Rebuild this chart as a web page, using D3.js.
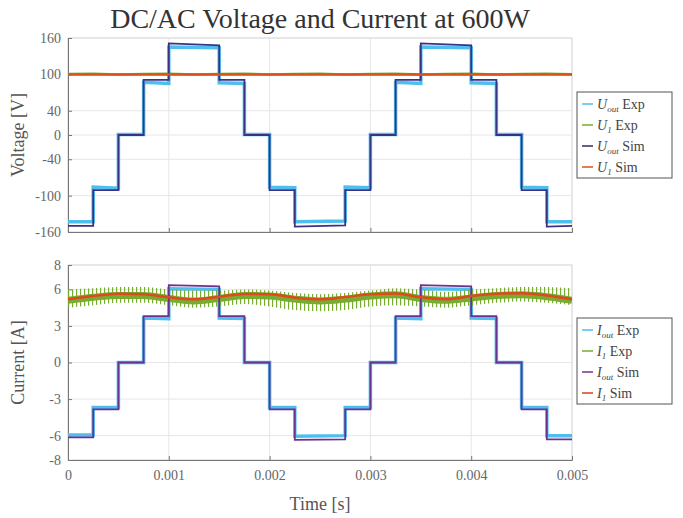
<!DOCTYPE html>
<html>
<head>
<meta charset="utf-8">
<script src="https://cdn.jsdelivr.net/npm/d3@7"></script>
<style>
  body { margin: 0; background: #fff; }
  text { font-family: "Liberation Serif", "DejaVu Serif", serif; }
</style>
</head>
<body>
<div id="chart"></div>
<script>

// step edges of the staircase (s)
var edges = [0, 0.00025, 0.0005, 0.00075, 0.001, 0.0015, 0.00175, 0.002, 0.00225,
             0.00275, 0.003, 0.00325, 0.0035, 0.004, 0.00425, 0.0045, 0.00475, 0.005];

// level at start / end of each step
var uOutSim = [[-150,-150],[-91,-91],[0,0],[91,91],[151,148],[91,91],[0,0],[-91,-91],[-151,-149],
               [-91,-91],[0,0],[91,91],[151,148],[91,91],[0,0],[-91,-91],[-151,-150]];
var uOutExp = [[-143,-143],[-86,-88],[1,1],[87,85],[145,144],[86,85],[1,1],[-86,-87],[-143,-142],
               [-86,-87],[1,1],[87,85],[145,144],[86,85],[1,1],[-86,-87],[-143,-143]];
var iOutSim = [[-6.15,-6.15],[-3.85,-3.85],[0,0],[3.8,3.8],[6.35,6.25],[3.8,3.8],[0,0],[-3.85,-3.85],[-6.35,-6.3],
               [-3.85,-3.85],[0,0],[3.8,3.8],[6.35,6.25],[3.8,3.8],[0,0],[-3.85,-3.85],[-6.3,-6.3]];
var iOutExp = [[-5.95,-5.95],[-3.7,-3.7],[0,0],[3.65,3.6],[6.05,6.0],[3.65,3.6],[0,0],[-3.7,-3.7],[-6.05,-6.0],
               [-3.7,-3.7],[0,0],[3.65,3.6],[6.05,6.0],[3.65,3.6],[0,0],[-3.7,-3.7],[-6.0,-6.0]];

// dc side, sampled every 0.25 ms
var tDc = [0, 0.00025, 0.0005, 0.00075, 0.001, 0.00125, 0.0015, 0.00175, 0.002, 0.00225, 0.0025,
           0.00275, 0.003, 0.00325, 0.0035, 0.00375, 0.004, 0.00425, 0.0045, 0.00475, 0.005];
var u1Sim = [100,100,100,100,100,100,100,100,100,100,100,100,100,100,100,100,100,100,100,100,100];
var u1Exp = [100.5,101,100,100.5,101,100,100.5,101,100,100.5,101,100,100.5,101,100,100.5,101,100,100.5,101,100];
var i1Sim = [5.18,5.45,5.65,5.6,5.35,5.18,5.4,5.62,5.6,5.32,5.18,5.38,5.6,5.67,5.35,5.2,5.45,5.65,5.68,5.5,5.18];
var i1ExpMid = [5.1,5.35,5.5,5.5,5.25,5.05,5.25,5.5,5.45,5.2,5.05,5.2,5.45,5.55,5.25,5.1,5.3,5.5,5.55,5.4,5.1];
var i1ExpHi = [6.0,6.1,6.2,6.2,6.0,5.9,5.9,6.0,5.9,5.7,5.6,5.7,5.9,6.1,6.0,5.8,6.0,6.1,6.2,6.2,6.1];
var i1ExpLo = [4.5,4.7,4.9,4.9,4.7,4.5,4.6,4.8,4.6,4.3,4.2,4.3,4.6,4.7,4.6,4.5,4.7,4.9,5.0,4.9,4.7];

var xTicks = [0, 0.001, 0.002, 0.003, 0.004, 0.005];
var uTicks = [-160, -100, -40, 0, 40, 100, 160];
var iTicks = [-8, -6, -3, 0, 3, 6, 8];

var uLegend = [["U","out"," Exp","#4dbeee"],["U","1"," Exp","#77ac30"],["U","out"," Sim","#2e2a6e"],["U","1"," Sim","#d95319"]];
var iLegend = [["I","out"," Exp","#4dbeee"],["I","1"," Exp","#77ac30"],["I","out"," Sim","#7e2f8e"],["I","1"," Sim","#d9401e"]];

var width = 683, height = 518;
var left = 68, right = 572;

var svg = d3.select("#chart").append("svg")
  .attr("width", width)
  .attr("height", height);

var defs = svg.append("defs");
var pat = defs.append("pattern")
  .attr("id", "spikes")
  .attr("patternUnits", "userSpaceOnUse")
  .attr("width", 4).attr("height", 20);
pat.append("rect").attr("x", 0).attr("y", 0).attr("width", 1.2).attr("height", 20)
  .attr("fill", "#77ac30");

var x = d3.scaleLinear().domain([0, 0.005]).range([left, right]);

function steps(levels) {
  var pts = [];
  levels.forEach(function(l, i) {
    pts.push([edges[i], l[0]]);
    pts.push([edges[i+1], l[1]]);
  });
  return pts;
}

function panel(top, bottom, yDomain, ticks, label, id) {
  var y = d3.scaleLinear().domain(yDomain).range([bottom, top]);
  var g = svg.append("g");

  defs.append("clipPath").attr("id", id)
    .append("rect").attr("x", left).attr("y", top).attr("width", right - left).attr("height", bottom - top);

  // grid
  g.selectAll(".gx").data(xTicks).enter().append("line")
    .attr("x1", function(d){ return x(d); }).attr("x2", function(d){ return x(d); })
    .attr("y1", top).attr("y2", bottom)
    .attr("stroke", "#e6e6e6").attr("stroke-width", 1);
  g.selectAll(".gy").data(ticks).enter().append("line")
    .attr("x1", left).attr("x2", right)
    .attr("y1", function(d){ return y(d); }).attr("y2", function(d){ return y(d); })
    .attr("stroke", "#e6e6e6").attr("stroke-width", 1);

  g.append("rect").attr("x", left).attr("y", top).attr("width", right - left).attr("height", bottom - top)
    .attr("fill", "none").attr("stroke", "#dcdcdc");

  var yAxis = d3.axisLeft(y).tickValues(ticks).tickSize(-4).tickPadding(7).tickFormat(d3.format("d"));
  var ya = g.append("g").attr("transform", "translate(" + left + ",0)").call(yAxis);
  ya.select(".domain").attr("stroke", "#777");
  ya.selectAll(".tick line").attr("stroke", "#777");
  ya.selectAll("text").attr("fill", "#666").style("font-size", "14px")
    .style("font-family", "'Liberation Serif', serif").text(function(d){ return d < 0 ? "-" + Math.abs(d) : d; });

  var xAxis = d3.axisBottom(x).tickValues(xTicks).tickSize(-4).tickPadding(10).tickFormat(function(d){ return d === 0 ? "0" : d3.format(".3f")(d); });
  var xa = g.append("g").attr("transform", "translate(0," + bottom + ")").call(xAxis);
  xa.select(".domain").attr("stroke", "#777");
  xa.selectAll(".tick line").attr("stroke", "#777");
  xa.selectAll("text").attr("fill", "#666").style("font-size", "14px")
    .style("font-family", "'Liberation Serif', serif");
  if (id === "clipU") xa.selectAll("text").remove();

  g.append("text")
    .attr("transform", "translate(24," + ((top + bottom) / 2) + ") rotate(-90)")
    .attr("text-anchor", "middle")
    .attr("fill", "#555")
    .style("font-size", "18px")
    .text(label);

  var plot = svg.append("g").attr("clip-path", "url(#" + id + ")");
  return { y: y, plot: plot };
}

var line = function(y) {
  return d3.line().x(function(d){ return x(d[0]); }).y(function(d){ return y(d[1]); });
};

// voltage panel
var pu = panel(38, 232, [-160, 160], uTicks, "Voltage [V]", "clipU");
pu.plot.append("path").datum(steps(uOutExp)).attr("d", line(pu.y))
  .attr("fill", "none").attr("stroke", "#4dbeee").attr("stroke-width", 3.5);
pu.plot.append("path").datum(tDc.map(function(t, i){ return [t, u1Exp[i]]; })).attr("d", line(pu.y))
  .attr("fill", "none").attr("stroke", "#77ac30").attr("stroke-width", 2.5);
pu.plot.append("path").datum(steps(uOutSim)).attr("d", line(pu.y))
  .attr("fill", "none").attr("stroke", "#3a3384").attr("stroke-width", 1.8);
pu.plot.append("path").datum(tDc.map(function(t, i){ return [t, u1Sim[i]]; })).attr("d", line(pu.y))
  .attr("fill", "none").attr("stroke", "#d95319").attr("stroke-width", 2.5);

// current panel
var pi = panel(265, 460, [-8, 8], iTicks, "Current [A]", "clipI");
pi.plot.append("path").datum(steps(iOutExp)).attr("d", line(pi.y))
  .attr("fill", "none").attr("stroke", "#4dbeee").attr("stroke-width", 3.5);
pi.plot.append("path")
  .datum(tDc.map(function(t, i){ return [t, i1ExpLo[i], i1ExpHi[i]]; }))
  .attr("d", d3.area().curve(d3.curveMonotoneX)
    .x(function(d){ return x(d[0]); })
    .y0(function(d){ return pi.y(d[1]); })
    .y1(function(d){ return pi.y(d[2]); }))
  .attr("fill", "url(#spikes)");
pi.plot.append("path").datum(tDc.map(function(t, i){ return [t, i1ExpMid[i]]; }))
  .attr("d", line(pi.y).curve(d3.curveMonotoneX))
  .attr("fill", "none").attr("stroke", "#77ac30").attr("stroke-width", 7);
pi.plot.append("path").datum(steps(iOutSim)).attr("d", line(pi.y))
  .attr("fill", "none").attr("stroke", "#6a3391").attr("stroke-width", 1.8);
pi.plot.append("path").datum(tDc.map(function(t, i){ return [t, i1Sim[i]]; }))
  .attr("d", line(pi.y).curve(d3.curveMonotoneX))
  .attr("fill", "none").attr("stroke", "#e0481f").attr("stroke-width", 2.5);

// legends
function legend(items, top) {
  var lg = svg.append("g");
  lg.append("rect").attr("x", 577).attr("y", top).attr("width", 95).attr("height", 86)
    .attr("fill", "#fff").attr("stroke", "#555").attr("stroke-width", 1);
  items.forEach(function(it, i) {
    var yy = top + 12 + i * 21;
    lg.append("line").attr("x1", 582).attr("x2", 593).attr("y1", yy).attr("y2", yy)
      .attr("stroke", it[3]).attr("stroke-width", 1.5);
    var t = lg.append("text").attr("x", 597).attr("y", yy + 4.5).attr("fill", "#444").style("font-size", "14px");
    t.append("tspan").style("font-style", "italic").text(it[0]);
    t.append("tspan").style("font-style", "italic").style("font-size", "9px").attr("dy", 3).text(it[1]);
    t.append("tspan").attr("dy", -3).text(it[2]);
  });
}
legend(uLegend, 92);
legend(iLegend, 318);

svg.append("text").attr("x", 320).attr("y", 28).attr("text-anchor", "middle")
  .attr("fill", "#333").style("font-size", "28px")
  .text("DC/AC Voltage and Current at 600W");

svg.append("text").attr("x", 320).attr("y", 510).attr("text-anchor", "middle")
  .attr("fill", "#555").style("font-size", "18px")
  .text("Time [s]");

</script>
</body>
</html>
